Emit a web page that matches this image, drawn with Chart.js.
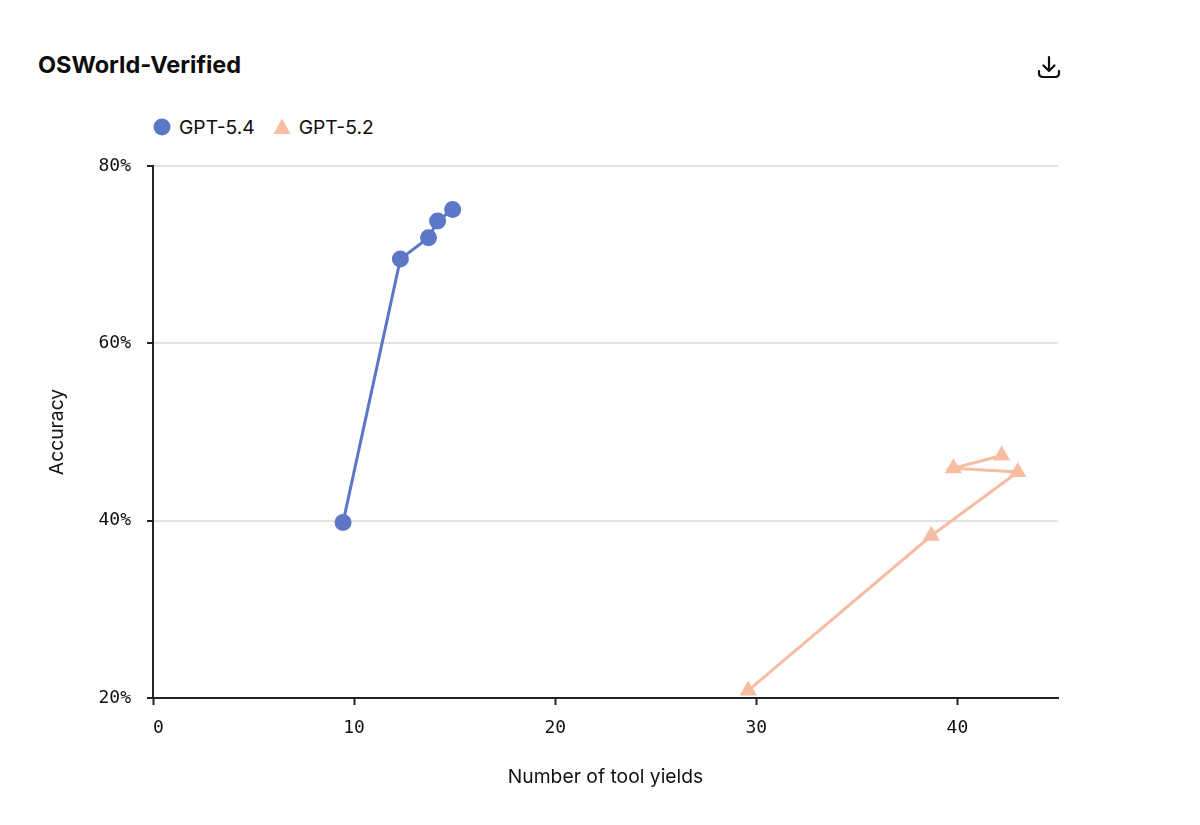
<!DOCTYPE html>
<html lang="en">
<head>
<meta charset="utf-8">
<title>OSWorld-Verified</title>
<script src="https://cdn.jsdelivr.net/npm/chart.js@4"></script>
<style>
  html, body { margin: 0; background: #fff; }
  #wrap { position: relative; width: 1200px; height: 825px; overflow: hidden; font-family: Inter, sans-serif; color: #0d0d0d; }
  #title { position: absolute; left: 38px; top: 51px; margin: 0; font-size: 23.5px; line-height: 28px; font-weight: 700; }
  #download { position: absolute; left: 1036px; top: 54px; }
  #legend { position: absolute; left: 153px; top: 114px; height: 26px; display: flex; align-items: center; font-size: 19.25px; }
  #legend span { display: flex; align-items: center; margin-right: 18px; }
  #legend svg { margin-right: 8px; }
  canvas { position: absolute; left: 0; top: 0; }
</style>
</head>
<body>
<div id="wrap">
  <h2 id="title">OSWorld-Verified</h2>
  <svg id="download" width="26" height="26" viewBox="0 0 26 26" fill="none" stroke="#0d0d0d" stroke-width="2.2" stroke-linecap="round" stroke-linejoin="round">
    <path d="M13 3v14M7.5 11.5 13 17l5.500-5.500"/>
    <path d="M3 17v2.500a3.500 3.500 0 0 0 3.500 3.500h13a3.500 3.500 0 0 0 3.500-3.500V17"/>
  </svg>
  <div id="legend">
    <span><svg width="18" height="18"><circle cx="9" cy="9" r="8.500" fill="#5B77C5"/></svg>GPT-5.4</span>
    <span><svg width="18" height="18"><path d="M9 0.500 17.500 16H0.500Z" fill="#F6BDA2"/></svg>GPT-5.2</span>
  </div>
  <canvas id="chart" width="1200" height="825"></canvas>
</div>

<script>
// ===== Data =====
const gpt54Yields = [9.45, 12.3, 13.7, 14.15, 14.9];
const gpt54Accuracy = [39.8, 69.5, 71.9, 73.8, 75.1];
const gpt52Yields = [42.2, 39.8, 43.0, 38.7, 29.6];
const gpt52Accuracy = [47.35, 45.9, 45.5, 38.3, 20.85];
const xTicks = [0, 10, 20, 30, 40];
const yTicks = [20, 40, 60, 80];

const toPoints = (xs, ys) => xs.map((x, i) => ({ x, y: ys[i] }));
const axisColor = "#222222";
const tickFont = { family: "'DejaVu Sans Mono', monospace", size: 18 };
const labelFont = { family: "Inter, sans-serif", size: 19.3 };

// ===== Chart =====
new Chart(document.getElementById("chart"), {
  type: "scatter",
  data: {
    datasets: [
      {
        label: "GPT-5.4",
        data: toPoints(gpt54Yields, gpt54Accuracy),
        showLine: true,
        borderColor: "#5B77C5",
        backgroundColor: "#5B77C5",
        borderWidth: 3,
        pointStyle: "circle",
        pointRadius: 8.5,
        pointBorderWidth: 0
      },
      {
        label: "GPT-5.2",
        data: toPoints(gpt52Yields, gpt52Accuracy),
        showLine: true,
        borderColor: "#F6BDA2",
        backgroundColor: "#F6BDA2",
        borderWidth: 3,
        pointStyle: "triangle",
        pointRadius: 10,
        pointBorderWidth: 0
      }
    ]
  },
  options: {
    responsive: false,
    animation: false,
    layout: { padding: { left: 46, right: 142, top: 166, bottom: 36 } },
    plugins: { legend: { display: false }, title: { display: false }, tooltip: { enabled: false } },
    scales: {
      x: {
        type: "linear",
        min: 0,
        max: 45,
        afterBuildTicks: scale => { scale.ticks = xTicks.map(value => ({ value })); },
        afterFit: scale => { scale.height = 91; },
        // leading space nudges the 0 off the y axis, like the reference
        ticks: { callback: v => (v === 0 ? " 0" : String(v)), font: tickFont, color: "#111111", padding: 13, maxRotation: 0 },
        grid: { drawOnChartArea: false, drawTicks: true, tickLength: 7, tickColor: axisColor, tickWidth: 2 },
        border: { color: axisColor, width: 2 },
        title: { display: true, text: "Number of tool yields", font: labelFont, color: "#111111", padding: 0 }
      },
      y: {
        type: "linear",
        min: 20,
        max: 80,
        afterBuildTicks: scale => { scale.ticks = yTicks.map(value => ({ value })); },
        afterFit: scale => { scale.width = 107; },
        ticks: { callback: v => v + "%", font: tickFont, color: "#111111", padding: 16 },
        grid: { color: "#E2E2E2", lineWidth: 2, drawTicks: true, tickLength: 6, tickColor: axisColor, tickWidth: 2 },
        border: { color: axisColor, width: 2 },
        title: { display: true, text: "Accuracy", font: labelFont, color: "#111111", padding: 0 }
      }
    }
  }
});
</script>
</body>
</html>
